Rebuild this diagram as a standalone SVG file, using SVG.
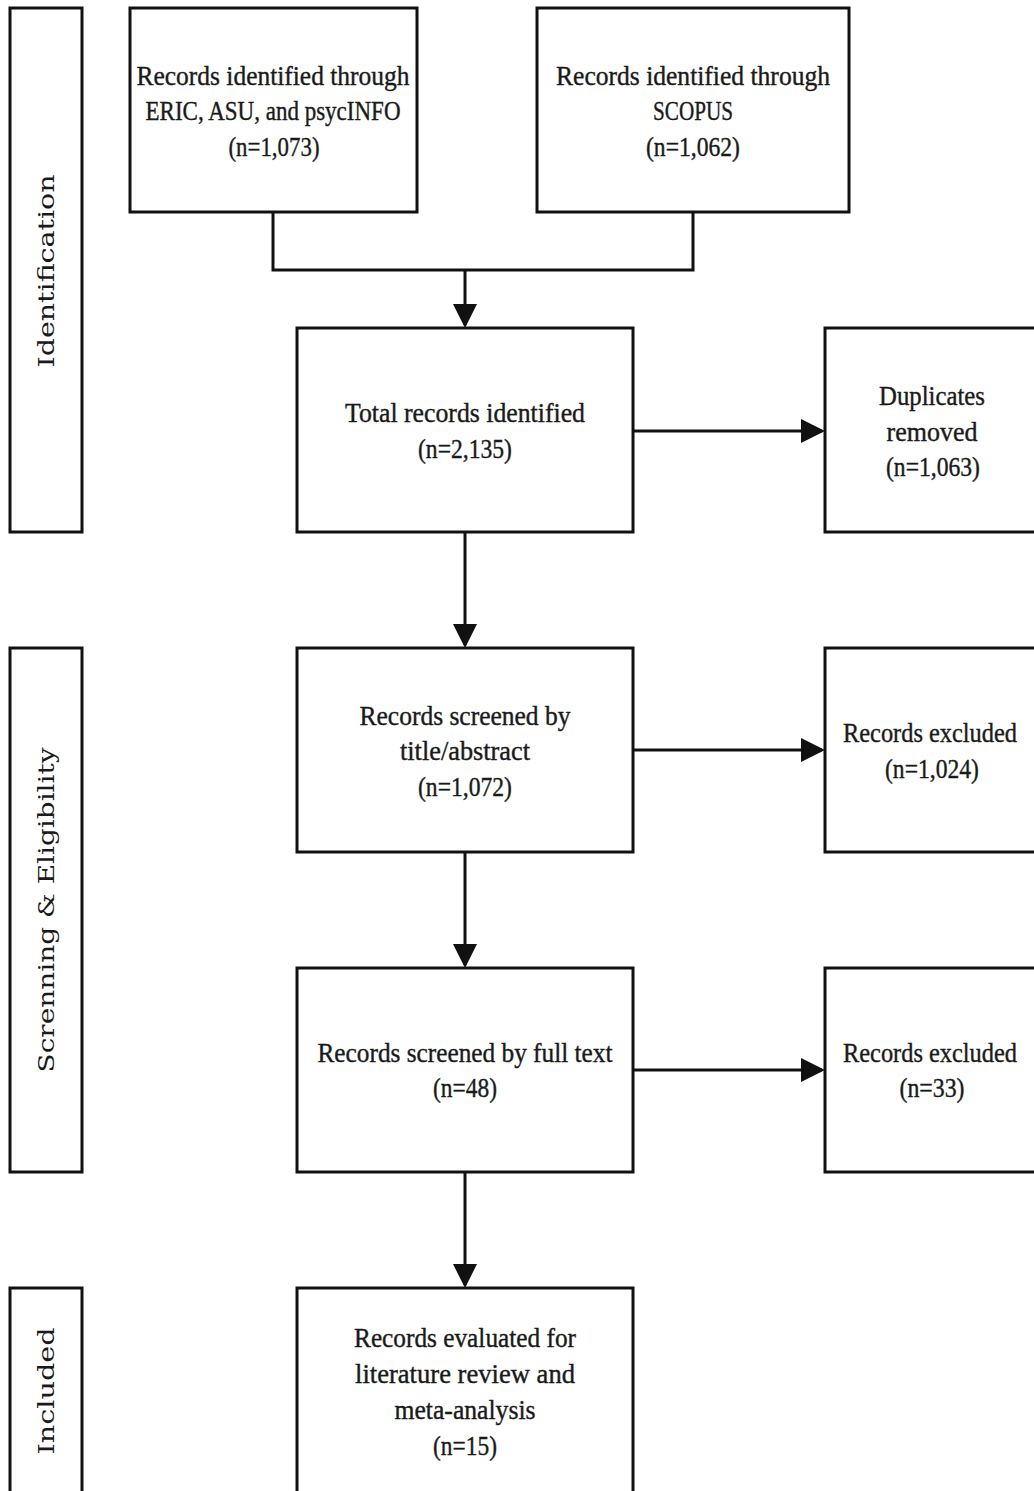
<svg xmlns="http://www.w3.org/2000/svg" width="1034" height="1491" viewBox="0 0 1034 1491">
<defs>
<style>
.box{fill:#fff;stroke:#111;stroke-width:3}
.t{font-family:"Liberation Serif","DejaVu Serif",serif;font-size:28px;fill:#1a1a1a;stroke:#1a1a1a;stroke-width:0.4;text-anchor:middle}
.p{font-family:"DejaVu Serif","Liberation Serif",serif;font-size:22px;fill:#1a1a1a;text-anchor:middle}
.c{fill:none;stroke:#111;stroke-width:3}
</style>
<marker id="ah" markerWidth="8" markerHeight="8" refX="7" refY="4" orient="auto" markerUnits="strokeWidth">
<path d="M0,0 L8,4 L0,8 Z" fill="#111"/>
</marker>
</defs>
<rect width="1034" height="1491" fill="#fff"/>
<g id="phase-identification">
<rect class="box" x="10" y="8" width="72" height="524"/>
<text class="p" transform="translate(54,271) rotate(-90)" textLength="193" lengthAdjust="spacingAndGlyphs">Identification</text>
</g>
<g id="phase-screening">
<rect class="box" x="10" y="648" width="72" height="524"/>
<text class="p" transform="translate(54,910) rotate(-90)" textLength="325" lengthAdjust="spacingAndGlyphs">Screnning &amp; Eligibility</text>
</g>
<g id="phase-included">
<rect class="box" x="10" y="1288" width="72" height="220"/>
<text class="p" transform="translate(54,1391) rotate(-90)" textLength="127" lengthAdjust="spacingAndGlyphs">Included</text>
</g>
<g id="connectors">
<path class="c" d="M273,212 V270 H693 V212"/>
<path class="c" d="M465,270 V325" marker-end="url(#ah)"/>
<path class="c" d="M633,431 H822" marker-end="url(#ah)"/>
<path class="c" d="M465,532 V645" marker-end="url(#ah)"/>
<path class="c" d="M633,750 H822" marker-end="url(#ah)"/>
<path class="c" d="M465,852 V965" marker-end="url(#ah)"/>
<path class="c" d="M633,1070 H822" marker-end="url(#ah)"/>
<path class="c" d="M465,1172 V1285" marker-end="url(#ah)"/>
</g>
<g id="n-eric">
<rect class="box" x="130" y="8" width="287" height="204"/>
<text class="t" x="273" y="85" textLength="273" lengthAdjust="spacingAndGlyphs">Records identified through</text>
<text class="t" x="273" y="120" textLength="255" lengthAdjust="spacingAndGlyphs">ERIC, ASU, and psycINFO</text>
<text class="t" x="274" y="156" textLength="91" lengthAdjust="spacingAndGlyphs">(n=1,073)</text>
</g>
<g id="n-scopus">
<rect class="box" x="537" y="8" width="312" height="204"/>
<text class="t" x="693" y="85" textLength="274" lengthAdjust="spacingAndGlyphs">Records identified through</text>
<text class="t" x="693" y="120" textLength="80" lengthAdjust="spacingAndGlyphs">SCOPUS</text>
<text class="t" x="693" y="156" textLength="94" lengthAdjust="spacingAndGlyphs">(n=1,062)</text>
</g>
<g id="n-total">
<rect class="box" x="297" y="328" width="336" height="204"/>
<text class="t" x="465" y="422" textLength="240" lengthAdjust="spacingAndGlyphs">Total records identified</text>
<text class="t" x="465" y="458" textLength="94" lengthAdjust="spacingAndGlyphs">(n=2,135)</text>
</g>
<g id="n-duplicates">
<rect class="box" x="825" y="328" width="215" height="204"/>
<text class="t" x="932" y="405" textLength="106" lengthAdjust="spacingAndGlyphs">Duplicates</text>
<text class="t" x="932" y="441" textLength="91" lengthAdjust="spacingAndGlyphs">removed</text>
<text class="t" x="933" y="476" textLength="94" lengthAdjust="spacingAndGlyphs">(n=1,063)</text>
</g>
<g id="n-excluded1">
<rect class="box" x="825" y="648" width="215" height="204"/>
<text class="t" x="930" y="742" textLength="174" lengthAdjust="spacingAndGlyphs">Records excluded</text>
<text class="t" x="932" y="778" textLength="94" lengthAdjust="spacingAndGlyphs">(n=1,024)</text>
</g>
<g id="n-screened">
<rect class="box" x="297" y="648" width="336" height="204"/>
<text class="t" x="465" y="725" textLength="211" lengthAdjust="spacingAndGlyphs">Records screened by</text>
<text class="t" x="465" y="760" textLength="130" lengthAdjust="spacingAndGlyphs">title/abstract</text>
<text class="t" x="465" y="796" textLength="94" lengthAdjust="spacingAndGlyphs">(n=1,072)</text>
</g>
<g id="n-fulltext">
<rect class="box" x="297" y="968" width="336" height="204"/>
<text class="t" x="465" y="1062" textLength="295" lengthAdjust="spacingAndGlyphs">Records screened by full text</text>
<text class="t" x="465" y="1097" textLength="64" lengthAdjust="spacingAndGlyphs">(n=48)</text>
</g>
<g id="n-excluded2">
<rect class="box" x="825" y="968" width="215" height="204"/>
<text class="t" x="930" y="1062" textLength="174" lengthAdjust="spacingAndGlyphs">Records excluded</text>
<text class="t" x="932" y="1097" textLength="65" lengthAdjust="spacingAndGlyphs">(n=33)</text>
</g>
<g id="n-final">
<rect class="box" x="297" y="1288" width="336" height="220"/>
<text class="t" x="465" y="1347" textLength="222" lengthAdjust="spacingAndGlyphs">Records evaluated for</text>
<text class="t" x="465" y="1383" textLength="220" lengthAdjust="spacingAndGlyphs">literature review and</text>
<text class="t" x="465" y="1419" textLength="141" lengthAdjust="spacingAndGlyphs">meta-analysis</text>
<text class="t" x="465" y="1455" textLength="64" lengthAdjust="spacingAndGlyphs">(n=15)</text>
</g>
</svg>
